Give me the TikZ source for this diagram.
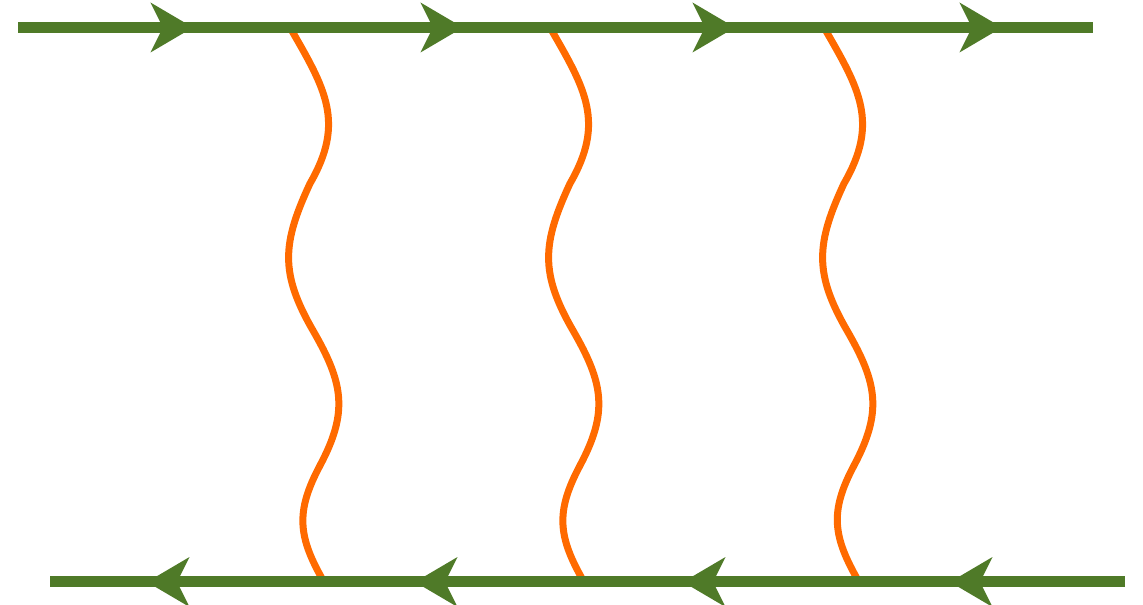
\documentclass[tikz,border=0pt]{standalone}
\usetikzlibrary{arrows.meta,decorations.markings}
\definecolor{leafgreen}{RGB}{79,122,40}
\definecolor{photonorange}{RGB}{255,106,0}
\tikzset{
  fermion/.style={color=leafgreen, line width=0.22cm, postaction={decorate},
    decoration={markings, mark=at position 3.5cm with
      {\arrow{Stealth[length=0.85cm,width=1.0cm,inset=0.25cm,line width=0pt]}}}},
  photon/.style={draw=photonorange, line width=0.14cm, looseness=1.15},
}
% wavy line with four half waves
\newcommand{\photonline}[2]{%
  \draw[photon] (#1) to[out=-60,in=60] ++(20,-156)
    to[out=-115,in=120] ++(3,-147)
    to[out=-60,in=62] ++(7,-135)
    to[out=-118,in=120] (#2);}
\begin{document}
\begin{tikzpicture}[x=0.02cm,y=0.02cm]
\useasboundingbox (0,0) rectangle (1143,605);
% vertices on the lines
\coordinate (a0) at (18,577.5);  \coordinate (a1) at (288,577.5);
\coordinate (a2) at (560,577.5); \coordinate (a3) at (827,577.5);
\coordinate (a4) at (1093,577.5);
\coordinate (b0) at (50,23);   \coordinate (b1) at (322,23);
\coordinate (b2) at (590,23);  \coordinate (b3) at (858,23);
\coordinate (b4) at (1125,23);
% ends of the wavy lines
\coordinate (p1) at (290,577.5); \coordinate (q1) at (324,23);
\coordinate (p2) at (550,577.5); \coordinate (q2) at (584,23);
\coordinate (p3) at (824,577.5); \coordinate (q3) at (859,23);
\photonline{p1}{q1}
\photonline{p2}{q2}
\photonline{p3}{q3}
% top line, left to right
\draw[fermion] (a0) -- (a1);
\draw[fermion] (a1) -- (a2);
\draw[fermion] (a2) -- (a3);
\draw[fermion] (a3) -- (a4);
% bottom line, right to left
\draw[fermion] (b4) -- (b3);
\draw[fermion] (b3) -- (b2);
\draw[fermion] (b2) -- (b1);
\draw[fermion] (b1) -- (b0);
\end{tikzpicture}
\end{document}
